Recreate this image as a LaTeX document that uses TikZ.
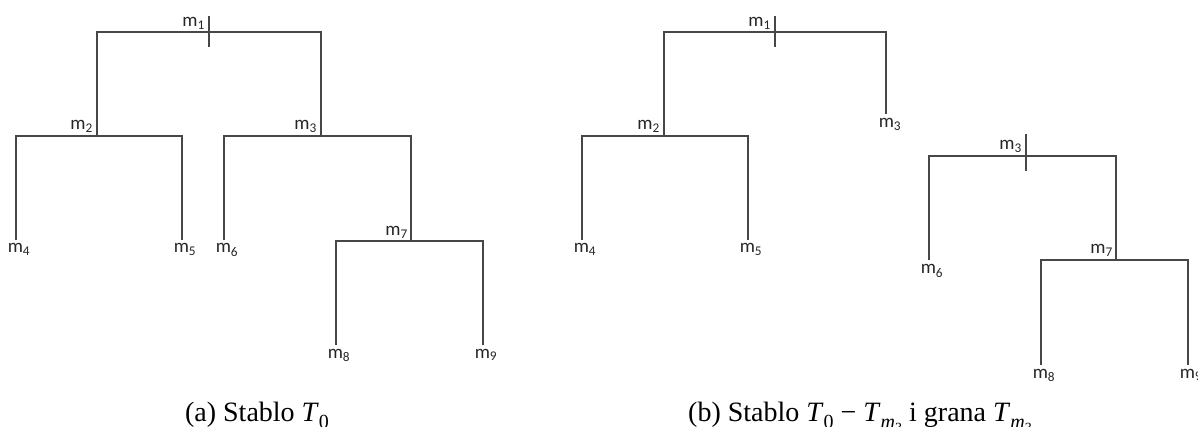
\documentclass[tikz,border=0pt]{standalone}
\usepackage{fontspec}
\setmainfont{Liberation Serif}
\newfontfamily\lblfont{Carlito}
% italic symbol with a lowered subscript, as in T_0 and T_{m_3}
\newcommand\symsub[2]{\textit{#1}\raisebox{-0.28em}{\fontsize{20}{20}\selectfont #2}}
\newcommand\msubthree{\textit{m}\raisebox{-0.2em}{\fontsize{14}{14}\selectfont 3}}
\newcommand\nm[1]{m\textsubscript{#1}}
\tikzset{
  branch/.style={draw=black!72, line width=1.3pt},
  lbl/.style={font=\lblfont\fontsize{19}{19}\selectfont, inner sep=0pt, text=black!85},
  capt/.style={font=\fontsize{28}{30}\selectfont, inner sep=0pt, anchor=base}
}
\begin{document}
\begin{tikzpicture}[x=1pt, y=-1pt]
\useasboundingbox (0,0) rectangle (1198,427);

% ---------- tree T_0 ----------
\coordinate (a1) at (209,32);
\coordinate (a2) at (97,136);
\coordinate (a3) at (321,136);
\coordinate (a4) at (16,240);
\coordinate (a5) at (182,240);
\coordinate (a6) at (224,240);
\coordinate (a7) at (411,241);
\coordinate (a8) at (336,345);
\coordinate (a9) at (483,345);

\draw[branch] (a2) |- (a1) -| (a3);
\draw[branch] (a4) |- (a2) -| (a5);
\draw[branch] (a6) |- (a3) -| (a7);
\draw[branch] (a8) |- (a7) -| (a9);
\draw[branch] (a1) ++(0,-16) -- ++(0,31);

\node[lbl, anchor=base east] (la1) at ([shift={(-4,-5)}]a1) {\nm{1}};
\node[lbl, anchor=base east] (la2) at ([shift={(-4,-6)}]a2) {\nm{2}};
\node[lbl, anchor=base east] (la3) at ([shift={(-4,-6)}]a3) {\nm{3}};
\node[lbl, anchor=base east] (la7) at ([shift={(-3,-5)}]a7) {\nm{7}};
\node[lbl, anchor=base] (la4) at ([shift={(3,13)}]a4) {\nm{4}};
\node[lbl, anchor=base] (la5) at ([shift={(3,13)}]a5) {\nm{5}};
\node[lbl, anchor=base] (la6) at ([shift={(3,13)}]a6) {\nm{6}};
\node[lbl, anchor=base] (la8) at ([shift={(3,13)}]a8) {\nm{8}};
\node[lbl, anchor=base] (la9) at ([shift={(3,13)}]a9) {\nm{9}};

% ---------- tree T_0 - T_{m3} ----------
\coordinate (b1) at (775,32);
\coordinate (b2) at (664,136);
\coordinate (b3) at (886,114);
\coordinate (b4) at (582,240);
\coordinate (b5) at (748,240);

\draw[branch] (b2) |- (b1) -| (b3);
\draw[branch] (b4) |- (b2) -| (b5);
\draw[branch] (b1) ++(0,-16) -- ++(0,31);

\node[lbl, anchor=base east] (lb1) at ([shift={(-4,-5)}]b1) {\nm{1}};
\node[lbl, anchor=base east] (lb2) at ([shift={(-4,-6)}]b2) {\nm{2}};
\node[lbl, anchor=base] (lb3) at ([shift={(4,14)}]b3) {\nm{3}};
\node[lbl, anchor=base] (lb4) at ([shift={(3,13)}]b4) {\nm{4}};
\node[lbl, anchor=base] (lb5) at ([shift={(3,13)}]b5) {\nm{5}};

% ---------- branch T_{m3} ----------
\coordinate (c3) at (1026,156);
\coordinate (c6) at (929,260);
\coordinate (c7) at (1116,260);
\coordinate (c8) at (1041,365);
\coordinate (c9) at (1188,365);

\draw[branch] (c6) |- (c3) -| (c7);
\draw[branch] (c8) |- (c7) -| (c9);
\draw[branch] (c3) ++(0,-22) -- ++(0,37);

\node[lbl, anchor=base east] (lc3) at ([shift={(-4,-6)}]c3) {\nm{3}};
\node[lbl, anchor=base east] (lc7) at ([shift={(-3,-6)}]c7) {\nm{7}};
\node[lbl, anchor=base] (lc6) at ([shift={(3,14)}]c6) {\nm{6}};
\node[lbl, anchor=base] (lc8) at ([shift={(3,13)}]c8) {\nm{8}};
\node[lbl, anchor=base] (lc9) at ([shift={(3,13)}]c9) {\nm{9}};

% ---------- captions ----------
\node[capt] (capa) at (257,421) {(a) Stablo \symsub{T}{0}};
\node[capt] (capb) at (860,421) {(b) Stablo \symsub{T}{0} − \symsub{T}{\msubthree} i grana \symsub{T}{\msubthree}};
\end{tikzpicture}
\end{document}
